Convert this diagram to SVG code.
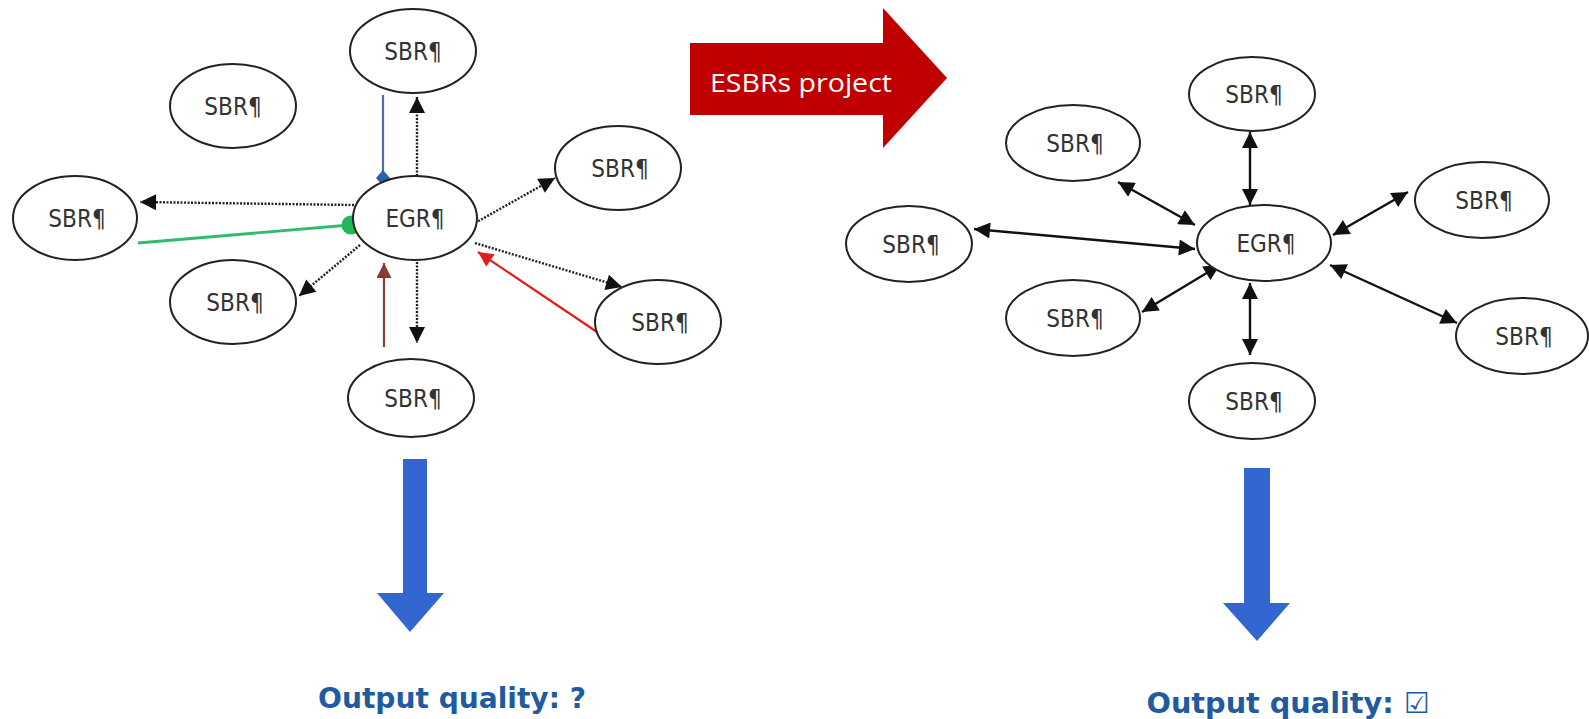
<svg xmlns="http://www.w3.org/2000/svg" width="1589" height="719" viewBox="0 0 1589 719">
<style>
.node ellipse{fill:#fff;stroke:#222;stroke-width:2}
.node text{font-family:"DejaVu Sans Condensed","DejaVu Sans",sans-serif;font-size:24px;fill:#333;text-anchor:middle}
.dot{stroke:#222;stroke-width:2.4;stroke-dasharray:2 1.5;fill:none}
.sol{stroke:#111;stroke-width:2.4;fill:none}
.oq{font-family:"DejaVu Sans Condensed","DejaVu Sans",sans-serif;font-weight:bold;font-size:29px;fill:#1f5b9e}
</style>
<defs>
<marker id="ah" viewBox="0 0 10 10" refX="10" refY="5" markerWidth="19" markerHeight="16" markerUnits="userSpaceOnUse" orient="auto-start-reverse"><path d="M0,0 L10,5 L0,10 z" fill="#111"/></marker>
<marker id="ahr" viewBox="0 0 10 10" refX="10" refY="5" markerWidth="20" markerHeight="15" markerUnits="userSpaceOnUse" orient="auto"><path d="M0,0 L10,5 L0,10 z" fill="#e0201e"/></marker>
<marker id="ahb" viewBox="0 0 10 10" refX="10" refY="5" markerWidth="20" markerHeight="15" markerUnits="userSpaceOnUse" orient="auto"><path d="M0,0 L10,5 L0,10 z" fill="#8a3a36"/></marker>
</defs>

<g id="connectors">
<!-- left cluster -->
<line class="dot" x1="417" y1="176" x2="417" y2="97" marker-end="url(#ah)"/>
<line x1="383" y1="95" x2="383" y2="172" stroke="#4f6fa0" stroke-width="2.2"/>
<path d="M383,170 L390,178 L383,186 L376,178 z" fill="#2b62a8"/>
<line class="dot" x1="354" y1="205" x2="140" y2="202" marker-end="url(#ah)"/>
<line x1="138" y1="243" x2="350" y2="225" stroke="#2ebc6a" stroke-width="2.8"/>
<circle cx="351" cy="225" r="9.5" fill="#1db954"/>
<line class="dot" x1="475" y1="223" x2="555" y2="178" marker-end="url(#ah)"/>
<line class="dot" x1="360" y1="245" x2="299" y2="296" marker-end="url(#ah)"/>
<line class="dot" x1="417" y1="262" x2="417" y2="343" marker-end="url(#ah)"/>
<line x1="384" y1="347" x2="384" y2="263" stroke="#8a3a36" stroke-width="2.2" marker-end="url(#ahb)"/>
<line class="dot" x1="475" y1="243" x2="622" y2="287" marker-end="url(#ah)"/>
<line x1="597" y1="332" x2="478" y2="252" stroke="#e0201e" stroke-width="2.2" marker-end="url(#ahr)"/>
<!-- right cluster -->
<line class="sol" x1="1250" y1="132" x2="1250" y2="205" marker-start="url(#ah)" marker-end="url(#ah)"/>
<line class="sol" x1="1118" y1="182" x2="1195" y2="225" marker-start="url(#ah)" marker-end="url(#ah)"/>
<line class="sol" x1="974" y1="229" x2="1195" y2="249" marker-start="url(#ah)" marker-end="url(#ah)"/>
<line class="sol" x1="1408" y1="192" x2="1333" y2="235" marker-start="url(#ah)" marker-end="url(#ah)"/>
<line class="sol" x1="1142" y1="312" x2="1220" y2="265" marker-start="url(#ah)" marker-end="url(#ah)"/>
<line class="sol" x1="1250" y1="283" x2="1250" y2="355" marker-start="url(#ah)" marker-end="url(#ah)"/>
<line class="sol" x1="1330" y1="265" x2="1457" y2="323" marker-start="url(#ah)" marker-end="url(#ah)"/>
</g>

<!-- left cluster nodes -->
<g id="L_top" class="node"><ellipse cx="413" cy="51" rx="63" ry="42"/><text x="413" y="60">SBR¶</text></g>
<g id="L_topleft" class="node"><ellipse cx="233" cy="106" rx="63" ry="42"/><text x="233" y="115">SBR¶</text></g>
<g id="L_left" class="node"><ellipse cx="75" cy="218" rx="62" ry="42"/><text x="77" y="227">SBR¶</text></g>
<g id="L_egr" class="node"><ellipse cx="415" cy="218" rx="62" ry="42"/><text x="415" y="227">EGR¶</text></g>
<g id="L_right" class="node"><ellipse cx="618" cy="168" rx="63" ry="42"/><text x="620" y="177">SBR¶</text></g>
<g id="L_lowleft" class="node"><ellipse cx="233" cy="302" rx="63" ry="42"/><text x="235" y="311">SBR¶</text></g>
<g id="L_bottom" class="node"><ellipse cx="411" cy="398" rx="63" ry="39"/><text x="413" y="407">SBR¶</text></g>
<g id="L_lowright" class="node"><ellipse cx="658" cy="322" rx="63" ry="42"/><text x="660" y="331">SBR¶</text></g>

<!-- right cluster nodes -->
<g id="R_top" class="node"><ellipse cx="1252" cy="94" rx="63" ry="37"/><text x="1254" y="103">SBR¶</text></g>
<g id="R_topleft" class="node"><ellipse cx="1073" cy="143" rx="67" ry="38"/><text x="1075" y="152">SBR¶</text></g>
<g id="R_left" class="node"><ellipse cx="909" cy="244" rx="63" ry="38"/><text x="911" y="253">SBR¶</text></g>
<g id="R_egr" class="node"><ellipse cx="1264" cy="243" rx="67" ry="38"/><text x="1266" y="252">EGR¶</text></g>
<g id="R_right" class="node"><ellipse cx="1482" cy="200" rx="67" ry="38"/><text x="1484" y="209">SBR¶</text></g>
<g id="R_lowleft" class="node"><ellipse cx="1073" cy="318" rx="67" ry="38"/><text x="1075" y="327">SBR¶</text></g>
<g id="R_bottom" class="node"><ellipse cx="1252" cy="401" rx="63" ry="38"/><text x="1254" y="410">SBR¶</text></g>
<g id="R_lowright" class="node"><ellipse cx="1522" cy="336" rx="66" ry="38"/><text x="1524" y="345">SBR¶</text></g>

<!-- big arrows -->
<g id="esbrs">
<path d="M690,43 L883,43 L883,8 L947,78 L883,148 L883,115 L690,115 z" fill="#c00000"/>
<text x="801" y="92" font-family="Open Sans, 'DejaVu Sans', sans-serif" font-size="26" fill="#fff" text-anchor="middle" textLength="182" lengthAdjust="spacingAndGlyphs">ESBRs project</text>
</g>
<g id="down_left"><path d="M403,459 L427,459 L427,593 L444,593 L410,632 L377,593 L403,593 z" fill="#3366d0"/></g>
<g id="down_right"><path d="M1244,468 L1270,468 L1270,603 L1290,603 L1257,641 L1223,603 L1244,603 z" fill="#3366d0"/></g>

<text class="oq" x="452" y="708" text-anchor="middle" textLength="268" lengthAdjust="spacingAndGlyphs">Output quality: ?</text>
<text class="oq" x="1288" y="713" text-anchor="middle" textLength="283" lengthAdjust="spacingAndGlyphs">Output quality: ☑</text>
</svg>
